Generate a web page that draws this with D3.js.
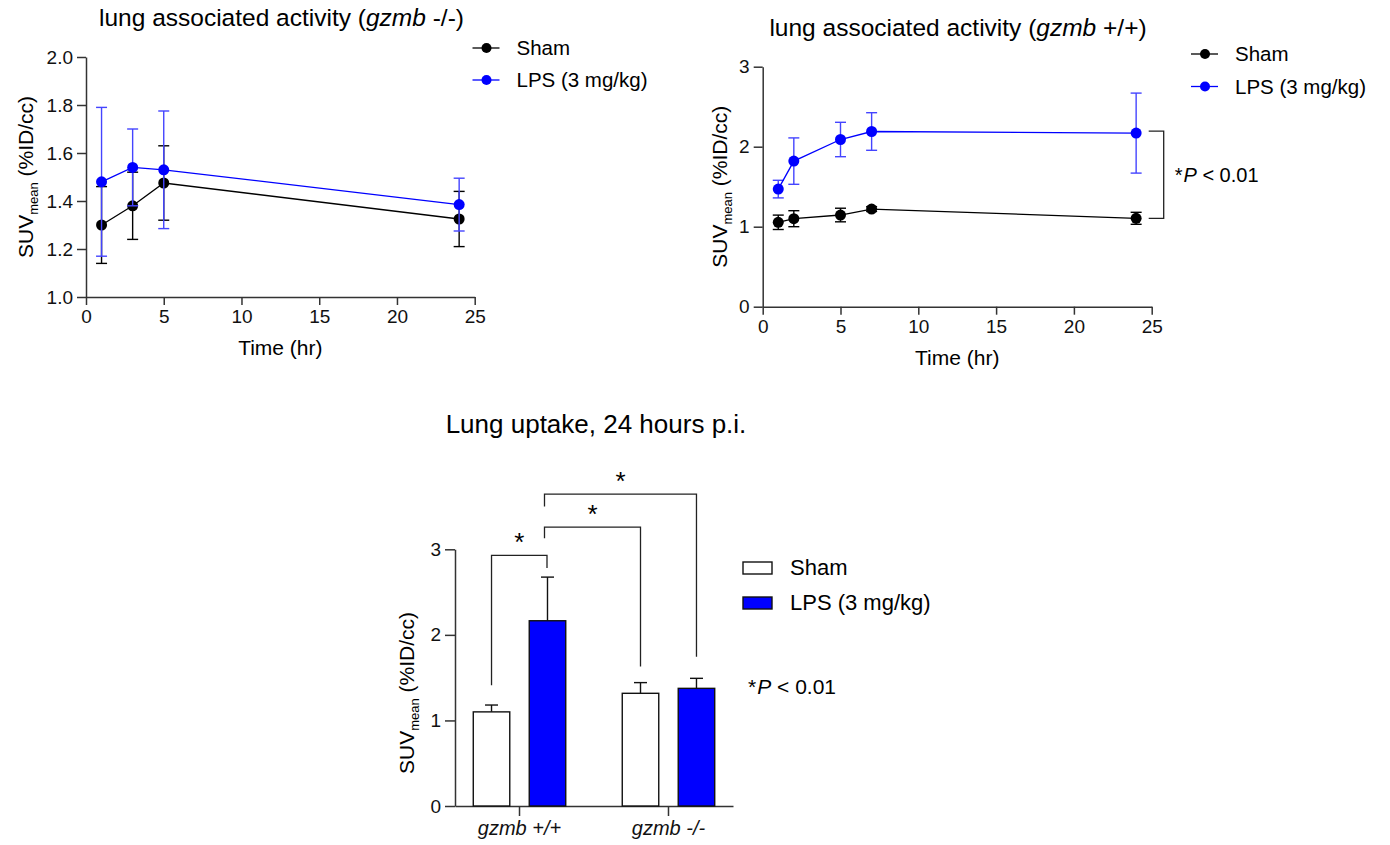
<!DOCTYPE html>
<html>
<head>
<meta charset="utf-8">
<script src="https://cdn.jsdelivr.net/npm/d3@7"></script>
<style>
  body { margin: 0; background: #fff; }
  svg, svg text { font-family: "Liberation Sans", Arial, sans-serif; }
  .axis path, .axis line { stroke: #333; stroke-width: 1.5; }
</style>
</head>
<body>
<div id="chart"></div>
<script>
// time course, gzmb -/-
const hoursKO = [1, 3, 5, 24]
const shamKO = [1.30, 1.38, 1.475, 1.325]
const shamKOErr = [0.16, 0.14, 0.155, 0.115]
const lpsKO = [1.48, 1.54, 1.53, 1.385]
const lpsKOErr = [0.31, 0.16, 0.245, 0.11]

// time course, gzmb +/+
const hoursWT = [1, 2, 5, 7, 24]
const shamWT = [1.055, 1.10, 1.146, 1.22, 1.105]
const shamWTErr = [0.09, 0.10, 0.085, 0.03, 0.075]
const lpsWT = [1.47, 1.82, 2.09, 2.19, 2.17]
const lpsWTErr = [0.11, 0.29, 0.215, 0.235, 0.50]

// 24 h bars
const groups = ['+/+', '-/-']
const barSham = [1.10, 1.317]
const barShamErr = [0.08, 0.125]
const barLps = [2.165, 1.375]
const barLpsErr = [0.51, 0.117]

const timeTicks = [0, 5, 10, 15, 20, 25]
const koTicks = [1.0, 1.2, 1.4, 1.6, 1.8, 2.0]
const wtTicks = [0, 1, 2, 3]
const barTicks = [0, 1, 2, 3]

const BLUE = '#0000ff'

const svg = d3.select('#chart').append('svg')
  .attr('width', 1390).attr('height', 845)

// d3 axes put their own font on the group, so set it on the labels directly
function styleAxis(sel, size) {
  sel.attr('font-family', null).attr('font-size', null)
  sel.selectAll('text')
    .style('font-size', size + 'px')
    .style('font-family', '"Liberation Sans", Arial, sans-serif')
    .attr('fill', '#111')
}

function suvLabel(g, x, y) {
  const t = g.append('text')
    .attr('transform', `translate(${x},${y}) rotate(-90)`)
    .attr('text-anchor', 'middle')
    .style('font-size', '21px')
  t.append('tspan').text('SUV')
  t.append('tspan').text('mean').style('font-size', '13px').attr('dy', 5)
  t.append('tspan').text(' (%ID/cc)').attr('dy', -5)
}

function title(x, y, size, pre, ital, post) {
  const t = svg.append('text').attr('x', x).attr('y', y)
    .attr('text-anchor', 'middle').style('font-size', size + 'px')
  t.append('tspan').text(pre)
  if (ital) t.append('tspan').text(ital).style('font-style', 'italic')
  if (post) t.append('tspan').text(post)
}

function pText(g, x, y, size) {
  const t = g.append('text').attr('x', x).attr('y', y).style('font-size', size + 'px')
  t.append('tspan').text('*')
  t.append('tspan').text('P').style('font-style', 'italic').attr('dx', 1)
  t.append('tspan').text(' < 0.01')
}

// line chart with error bars
function lineChart(opt) {
  const g = svg.append('g')
  const x = d3.scaleLinear().domain([0, 25]).range(opt.xr)
  const y = d3.scaleLinear().domain(opt.yd).range(opt.yr)

  g.append('g').attr('class', 'axis')
    .attr('transform', `translate(0,${opt.yr[0]})`)
    .call(d3.axisBottom(x).tickValues(timeTicks).tickSize(8).tickSizeOuter(0).tickPadding(5))
    .call(styleAxis, 19)
  g.append('g').attr('class', 'axis')
    .attr('transform', `translate(${opt.xr[0]},0)`)
    .call(d3.axisLeft(y).tickValues(opt.ticks).tickFormat(opt.fmt).tickSize(9).tickSizeOuter(0).tickPadding(4))
    .call(styleAxis, 19)

  const series = [
    { vals: opt.sham, err: opt.shamErr, color: '#000', errColor: '#000' },
    { vals: opt.lps, err: opt.lpsErr, color: BLUE, errColor: '#4444ff' }
  ]
  series.forEach(s => {
    const pts = opt.hours.map((h, i) => ({ h, v: s.vals[i], e: s.err[i] }))
    const eb = g.append('g').attr('stroke', s.errColor).attr('stroke-width', 1.4)
    pts.forEach(p => {
      eb.append('line').attr('x1', x(p.h)).attr('x2', x(p.h))
        .attr('y1', y(p.v - p.e)).attr('y2', y(p.v + p.e))
      ;[p.v - p.e, p.v + p.e].forEach(v => {
        eb.append('line').attr('x1', x(p.h) - 5.5).attr('x2', x(p.h) + 5.5)
          .attr('y1', y(v)).attr('y2', y(v))
      })
    })
    g.append('path').datum(pts)
      .attr('fill', 'none').attr('stroke', s.color).attr('stroke-width', 1.3)
      .attr('d', d3.line().x(d => x(d.h)).y(d => y(d.v)))
    g.selectAll(null).data(pts).enter().append('circle')
      .attr('cx', d => x(d.h)).attr('cy', d => y(d.v)).attr('r', 5.5)
      .attr('fill', s.color)
  })

  // legend
  const names = ['Sham', 'LPS (3 mg/kg)']
  series.forEach((s, i) => {
    const ly = opt.leg[1] + i * opt.leg[2]
    g.append('line').attr('x1', opt.leg[0] - 14).attr('x2', opt.leg[0] + 13)
      .attr('y1', ly).attr('y2', ly).attr('stroke', s.color).attr('stroke-width', 1.3)
    g.append('circle').attr('cx', opt.leg[0]).attr('cy', ly).attr('r', 5).attr('fill', s.color)
    g.append('text').attr('x', opt.leg[0] + opt.leg[3]).attr('y', ly + 7)
      .style('font-size', '20.5px').text(names[i])
  })

  g.append('text').attr('x', (opt.xr[0] + opt.xr[1]) / 2).attr('y', opt.yr[0] + 58)
    .attr('text-anchor', 'middle').style('font-size', '21px').text('Time (hr)')
  suvLabel(g, opt.xr[0] - opt.lab, (opt.yr[0] + opt.yr[1]) / 2)
  return { x, y, g }
}

title(281.5, 26, 24.5, 'lung associated activity (', 'gzmb', ' -/-)')
lineChart({
  xr: [86, 474.7], yd: [1, 2], yr: [297, 57], ticks: koTicks, fmt: d3.format('.1f'),
  hours: hoursKO, sham: shamKO, shamErr: shamKOErr, lps: lpsKO, lpsErr: lpsKOErr,
  leg: [486.5, 48, 32, 30], lab: 53
})

title(958, 36, 24.5, 'lung associated activity (', 'gzmb', ' +/+)')
const wt = lineChart({
  xr: [762.7, 1151.7], yd: [0, 3], yr: [306.7, 66.7], ticks: wtTicks, fmt: d3.format('d'),
  hours: hoursWT, sham: shamWT, shamErr: shamWTErr, lps: lpsWT, lpsErr: lpsWTErr,
  leg: [1205, 54, 32.5, 30], lab: 36
})
// significance bracket between last points
{
  const last = hoursWT.length - 1
  const yTop = wt.y(lpsWT[last]) - 2, yBot = wt.y(shamWT[last])
  const bx = wt.x(25) + 12
  wt.g.append('path').attr('fill', 'none').attr('stroke', '#222').attr('stroke-width', 1.3)
    .attr('d', `M${bx - 15},${yTop}H${bx}V${yBot}H${bx - 15}`)
  pText(wt.g, bx + 11, (yTop + yBot) / 2 + 7, 20)
}

// bar chart
{
  title(596, 433, 26, 'Lung uptake, 24 hours p.i.')
  const g = svg.append('g')
  const x0 = d3.scaleBand().domain(groups).range([455, 733]).paddingInner(0.329).paddingOuter(0.0975)
  const x1 = d3.scaleBand().domain(['sham', 'lps']).range([0, x0.bandwidth()]).paddingInner(0.348).paddingOuter(0.067)
  const y = d3.scaleLinear().domain([0, 3]).range([806, 549.3])

  const xa = g.append('g').attr('class', 'axis').attr('transform', 'translate(0,806)')
    .call(d3.axisBottom(x0).tickSize(10).tickSizeOuter(0).tickPadding(5).tickFormat(() => ''))
    .call(styleAxis, 20)
  xa.selectAll('.tick text').each(function (d) {
    const t = d3.select(this).style('font-style', 'italic')
    t.append('tspan').text('gzmb')
    t.append('tspan').text(' ' + d)
  })
  g.append('g').attr('class', 'axis').attr('transform', 'translate(455,0)')
    .call(d3.axisLeft(y).tickValues(barTicks).tickFormat(d3.format('d')).tickSize(10).tickSizeOuter(0).tickPadding(4))
    .call(styleAxis, 19)

  const rows = groups.map((gr, i) => [
    { gr, key: 'sham', v: barSham[i], e: barShamErr[i], fill: '#fff' },
    { gr, key: 'lps', v: barLps[i], e: barLpsErr[i], fill: BLUE }
  ]).flat()
  const cx = d => x0(d.gr) + x1(d.key) + x1.bandwidth() / 2
  rows.forEach(d => {
    g.append('line').attr('x1', cx(d)).attr('x2', cx(d)).attr('y1', y(d.v)).attr('y2', y(d.v + d.e))
      .attr('stroke', '#111').attr('stroke-width', 1.4)
    g.append('line').attr('x1', cx(d) - 6.5).attr('x2', cx(d) + 6.5).attr('y1', y(d.v + d.e)).attr('y2', y(d.v + d.e))
      .attr('stroke', '#111').attr('stroke-width', 1.4)
  })
  g.selectAll('rect.bar').data(rows).enter().append('rect').attr('class', 'bar')
    .attr('x', d => x0(d.gr) + x1(d.key)).attr('width', x1.bandwidth())
    .attr('y', d => y(d.v)).attr('height', d => 806 - y(d.v))
    .attr('fill', d => d.fill).attr('stroke', '#111').attr('stroke-width', 1.4)

  // significance brackets: [from, to, topValue, footFrom, footTo]
  const wtLps = rows[1]
  const brackets = [
    [rows[0], wtLps, 2.93, 1.41, 2.78],
    [wtLps, rows[2], 3.26, 3.13, 1.63],
    [wtLps, rows[3], 3.645, 3.50, 1.744]
  ]
  brackets.forEach(([a, b, top, fa, fb]) => {
    const xa2 = cx(a) - (a === wtLps ? 3 : 0), xb = cx(b) - (b === wtLps ? 0.5 : 0)
    g.append('path').attr('fill', 'none').attr('stroke', '#222').attr('stroke-width', 1.3)
      .attr('d', `M${xa2},${y(fa)}V${y(top)}H${xb}V${y(fb)}`)
    g.append('text').attr('x', (xa2 + xb) / 2).attr('y', y(top) - 4)
      .attr('text-anchor', 'middle').style('font-size', '26px').text('*')
  })

  // legend
  const lg = [['Sham', '#fff'], ['LPS (3 mg/kg)', BLUE]]
  lg.forEach(([name, fill], i) => {
    g.append('rect').attr('x', 743).attr('y', 562 + i * 35).attr('width', 29).attr('height', 12)
      .attr('fill', fill).attr('stroke', '#111').attr('stroke-width', 1.4)
    g.append('text').attr('x', 790).attr('y', 575 + i * 35).style('font-size', '22px').text(name)
  })
  pText(g, 748, 694, 21)

  suvLabel(g, 414, 693)
}
</script>
</body>
</html>
